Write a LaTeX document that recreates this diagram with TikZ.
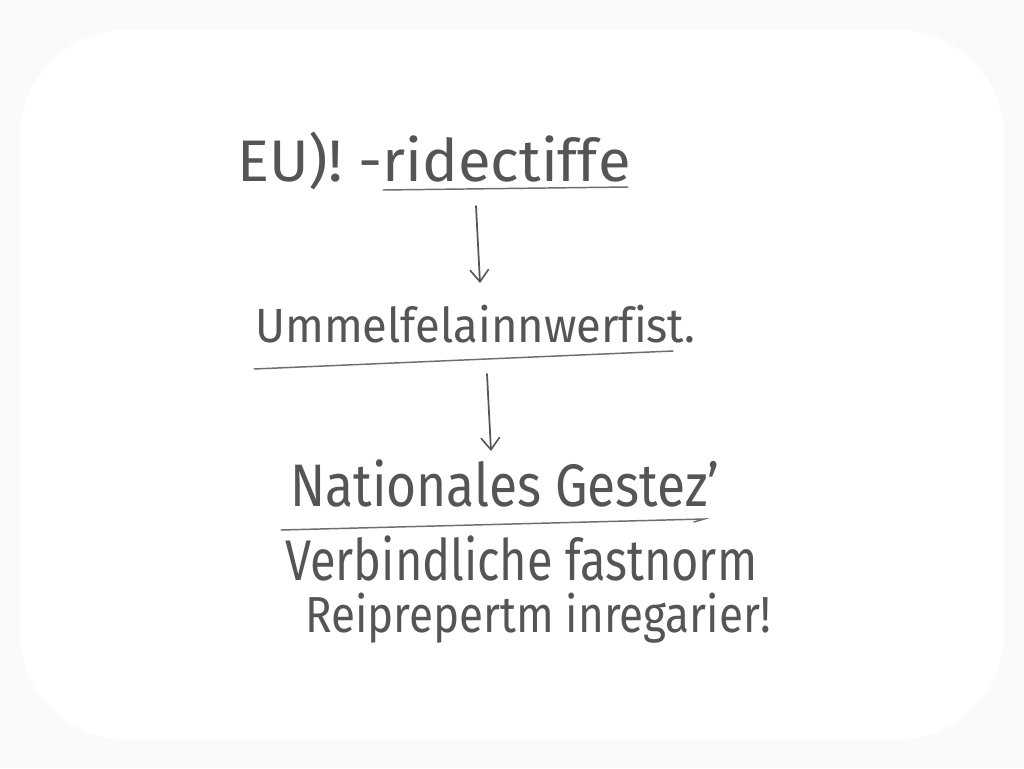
\documentclass[tikz,border=0pt]{standalone}
\usepackage{fontspec}
\setmainfont{Fira Sans}[Ligatures=NoCommon]
\usepackage{graphicx}
\usetikzlibrary{arrows.meta}
\definecolor{ink}{HTML}{555555}
\definecolor{paper}{HTML}{FAFAF9}
\begin{document}
\begin{tikzpicture}[x=0.75pt,y=-0.75pt,
  txt/.style={anchor=base west,inner sep=0pt,text=ink},
  uline/.style={draw=ink!85,line width=1.1pt,line cap=round},
  conn/.style={draw=ink,line width=1.3pt,line cap=round,-{Straight Barb[length=9pt,width=14pt,line width=1.2pt]}}]
\fill[paper] (0,0) rectangle (1024,768);
\fill[white,rounded corners=80pt] (20,30) rectangle (1004,740);
\useasboundingbox (0,0) rectangle (1024,768);
\node[txt,font=\fontsize{44}{44}\selectfont] (t1) at (237,181) {\resizebox{295pt}{\height}{EU)! -ridectif\kern0pt f\kern0pt e}};
\node[txt,font=\fontsize{36}{36}\selectfont] (t2) at (255,342) {\resizebox{330pt}{\height}{Ummelf\kern0pt elainnwerf\kern0pt ist.}};
\node[txt,font=\fontsize{45}{45}\selectfont] (t3) at (290,506) {\resizebox{322pt}{\height}{Nationales Gestez’}};
\node[txt,font=\fontsize{43}{43}\selectfont] (t4) at (285,580) {\resizebox{354pt}{\height}{Verbindliche fastnorm}};
\node[txt,font=\fontsize{38}{38}\selectfont] (t5) at (305,632) {\resizebox{349pt}{\height}{Reiprepertm inregarier!}};
% underlines
\draw[uline] (383,190) -- (628,187);
\draw[uline] (254,369) -- (673,351);
\draw[uline] (281,530) -- (704,519) -- (694,522);
% connectors
\coordinate (a1s) at (476,206);
\coordinate (a1e) at (480,283);
\coordinate (a2s) at (487,374);
\coordinate (a2e) at (491,451);
\draw[conn] (a1s) -- (a1e);
\draw[conn] (a2s) -- (a2e);
\end{tikzpicture}
\end{document}
